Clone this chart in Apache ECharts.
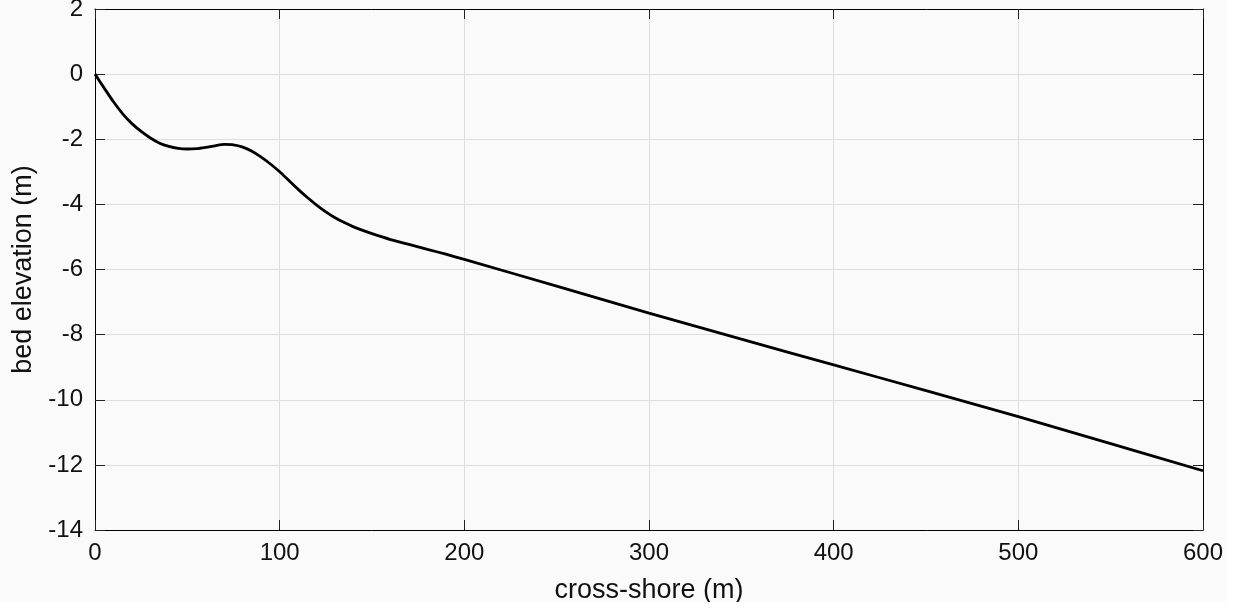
<!DOCTYPE html>
<html>
<head>
<meta charset="utf-8">
<script src="https://cdn.jsdelivr.net/npm/echarts@6/dist/echarts.min.js"></script>
<style>
  html, body { margin: 0; padding: 0; background: #ffffff; }
  #chart { width: 1227px; height: 602px; background: #fafafa; }
</style>
</head>
<body>
<div id="chart"></div>
<script>
const crossShore = [0, 5, 10, 15, 20, 25, 30, 35, 40, 45, 50, 55, 60, 65, 70, 75, 80, 85, 90, 95, 100, 105, 110, 115, 120, 125, 130, 135, 140, 145, 150, 160, 170, 180, 190, 200, 250, 300, 350, 400, 450, 500, 550, 600];
const bedElevation = [0, -0.43, -0.85, -1.22, -1.52, -1.76, -1.96, -2.12, -2.22, -2.28, -2.30, -2.29, -2.25, -2.20, -2.16, -2.17, -2.24, -2.37, -2.55, -2.76, -3.00, -3.27, -3.54, -3.79, -4.02, -4.23, -4.41, -4.56, -4.69, -4.80, -4.90, -5.08, -5.23, -5.38, -5.53, -5.69, -6.51, -7.34, -8.14, -8.93, -9.72, -10.52, -11.35, -12.18];
const xTicks = { min: 0, max: 600, interval: 100 };
const yTicks = { min: -14, max: 2, interval: 2 };
const xLabel = 'cross-shore (m)';
const yLabel = 'bed elevation (m)';

const points = crossShore.map((x, i) => [x, bedElevation[i]]);
const font = '"Liberation Sans", Arial, Helvetica, sans-serif';
const axisLineStyle = { show: true, onZero: false, lineStyle: { color: '#000', width: 1 } };
const tickStyle = { show: true, inside: true, length: 10, lineStyle: { color: '#222', width: 1 } };

const chart = echarts.init(document.getElementById('chart'), null, { renderer: 'canvas' });
chart.setOption({
  backgroundColor: '#fafafa',
  animation: false,
  grid: { left: 95, right: 24, top: 9, bottom: 72, containLabel: false, outerBoundsMode: 'none' },
  xAxis: [
    {
      type: 'value', position: 'bottom', min: xTicks.min, max: xTicks.max, interval: xTicks.interval,
      name: xLabel, nameLocation: 'middle', nameGap: 47,
      nameTextStyle: { fontSize: 27, color: '#111', fontFamily: font },
      axisLine: axisLineStyle, axisTick: tickStyle,
      axisLabel: { fontSize: 24, color: '#111', fontFamily: font, margin: 11 },
      splitLine: { show: true, lineStyle: { color: '#dedede', width: 1 } }
    },
    {
      type: 'value', position: 'top', min: xTicks.min, max: xTicks.max, interval: xTicks.interval,
      axisLine: axisLineStyle, axisTick: tickStyle, axisLabel: { show: false }, splitLine: { show: false }
    }
  ],
  yAxis: [
    {
      type: 'value', position: 'left', min: yTicks.min, max: yTicks.max, interval: yTicks.interval,
      name: yLabel, nameLocation: 'middle', nameGap: 58, nameRotate: 90,
      nameTextStyle: { fontSize: 27, color: '#111', fontFamily: font },
      axisLine: axisLineStyle, axisTick: tickStyle,
      axisLabel: { fontSize: 24, color: '#111', fontFamily: font, margin: 12 },
      splitLine: { show: true, lineStyle: { color: '#dedede', width: 1 } }
    },
    {
      type: 'value', position: 'right', min: yTicks.min, max: yTicks.max, interval: yTicks.interval,
      axisLine: axisLineStyle, axisTick: tickStyle, axisLabel: { show: false }, splitLine: { show: false }
    }
  ],
  series: [{
    type: 'line', xAxisIndex: 0, yAxisIndex: 0, data: points,
    showSymbol: false, smooth: 0.25,
    lineStyle: { color: '#000', width: 2.8 }
  }]
});
</script>
</body>
</html>
